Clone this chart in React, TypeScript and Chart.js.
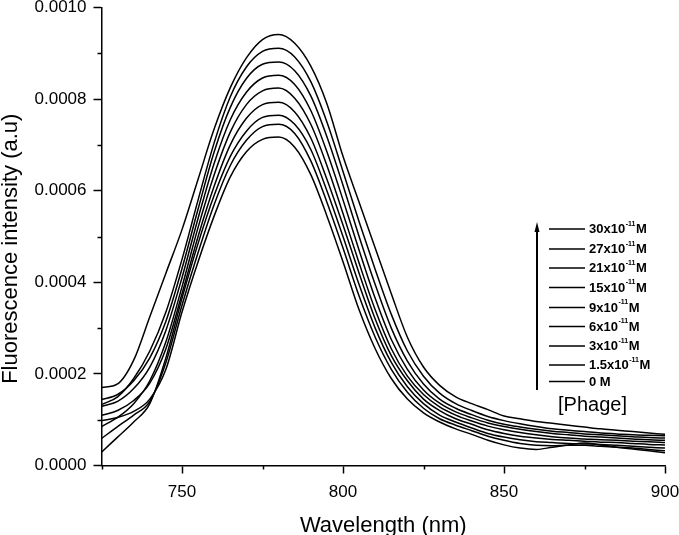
import React, { useEffect, useRef } from 'react';
import { Chart, registerables } from 'chart.js';

Chart.register(...registerables);

// Wavelength grid (nm)
const wavelengths = [725, 730, 735, 740, 745, 750, 755, 760, 765, 770, 775, 780, 785, 790, 795, 800, 805, 810, 815, 820, 825, 830, 835, 840, 845, 850, 855, 860, 865, 870, 875, 880, 885, 890, 895, 900];

// Fluorescence intensity, in units of 1e-4 a.u.
const phage0 = [0.98, 1.05, 1.18, 1.45, 2.1, 3.35, 4.45, 5.45, 6.3, 6.85, 7.12, 7.17, 6.95, 6.35, 5.45, 4.45, 3.4, 2.55, 1.9, 1.45, 1.15, 0.95, 0.8, 0.68, 0.55, 0.45, 0.38, 0.35, 0.4, 0.45, 0.49, 0.45, 0.4, 0.36, 0.32, 0.28];
const phage1_5 = [0.59, 0.85, 1.1, 1.4, 2.25, 3.5, 4.65, 5.7, 6.55, 7.1, 7.4, 7.45, 7.25, 6.65, 5.75, 4.75, 3.7, 2.8, 2.1, 1.6, 1.25, 1.02, 0.88, 0.76, 0.64, 0.55, 0.48, 0.44, 0.43, 0.44, 0.44, 0.42, 0.4, 0.38, 0.35, 0.32];
const phage3 = [0.29, 0.62, 0.95, 1.35, 2.35, 3.65, 4.85, 5.9, 6.75, 7.3, 7.6, 7.65, 7.45, 6.9, 6.0, 5.0, 3.95, 3.0, 2.25, 1.72, 1.35, 1.1, 0.95, 0.82, 0.7, 0.62, 0.56, 0.52, 0.5, 0.48, 0.47, 0.46, 0.44, 0.42, 0.4, 0.38];
const phage6 = [1.09, 1.2, 1.42, 1.8, 2.55, 3.75, 5.0, 6.1, 7.0, 7.58, 7.88, 7.93, 7.72, 7.15, 6.25, 5.25, 4.2, 3.2, 2.4, 1.85, 1.45, 1.2, 1.02, 0.9, 0.78, 0.7, 0.64, 0.6, 0.57, 0.55, 0.53, 0.51, 0.5, 0.48, 0.46, 0.45];
const phage9 = [0.85, 1.05, 1.35, 1.85, 2.7, 3.9, 5.2, 6.35, 7.28, 7.88, 8.18, 8.24, 8.02, 7.45, 6.55, 5.5, 4.42, 3.4, 2.55, 1.95, 1.55, 1.28, 1.1, 0.97, 0.86, 0.78, 0.72, 0.67, 0.63, 0.6, 0.58, 0.56, 0.55, 0.53, 0.52, 0.5];
const phage15 = [1.29, 1.4, 1.68, 2.15, 2.95, 4.1, 5.4, 6.6, 7.55, 8.15, 8.46, 8.52, 8.32, 7.75, 6.85, 5.8, 4.7, 3.65, 2.75, 2.1, 1.65, 1.36, 1.17, 1.04, 0.93, 0.85, 0.79, 0.74, 0.7, 0.67, 0.64, 0.62, 0.6, 0.58, 0.56, 0.55];
const phage21 = [1.44, 1.55, 1.85, 2.35, 3.15, 4.3, 5.6, 6.85, 7.82, 8.45, 8.76, 8.81, 8.62, 8.07, 7.18, 6.12, 5.0, 3.95, 3.0, 2.28, 1.78, 1.45, 1.25, 1.11, 0.99, 0.9, 0.84, 0.79, 0.75, 0.72, 0.69, 0.67, 0.65, 0.63, 0.61, 0.6];
const phage27 = [1.33, 1.5, 1.9, 2.5, 3.35, 4.5, 5.8, 7.05, 8.05, 8.7, 9.04, 9.11, 8.92, 8.38, 7.5, 6.42, 5.32, 4.28, 3.3, 2.5, 1.95, 1.58, 1.35, 1.2, 1.07, 0.98, 0.91, 0.85, 0.8, 0.77, 0.74, 0.71, 0.69, 0.67, 0.66, 0.65];
const phage30 = [1.7, 1.78, 2.3, 3.25, 4.2, 5.15, 6.25, 7.35, 8.25, 8.9, 9.3, 9.41, 9.22, 8.72, 7.9, 6.75, 5.75, 4.75, 3.75, 2.8, 2.15, 1.75, 1.5, 1.35, 1.22, 1.08, 1.02, 0.96, 0.92, 0.88, 0.84, 0.8, 0.77, 0.74, 0.71, 0.68];

const seriesValues = [phage0, phage1_5, phage3, phage6, phage9, phage15, phage21, phage27, phage30];
const seriesNames = ['0 M', '1.5x10-11M', '3x10-11M', '6x10-11M', '9x10-11M', '15x10-11M', '21x10-11M', '27x10-11M', '30x10-11M'];

// Legend entries, top to bottom (mantissa of x10^-11 M, or null for 0 M)
const legendMantissas = ['30', '27', '21', '15', '9', '6', '3', '1.5', null];
const legendOffsets = [0, 20, 39, 58.5, 78.5, 97.5, 117, 136, 152.5];

const xTickValues = [750, 800, 850, 900];
const xMinorValues = [725, 775, 825, 875];
const yMinorValues = [0.0001, 0.0003, 0.0005, 0.0007, 0.0009];

const FONT = '"Liberation Sans", Arial, sans-serif';

const minorTicks = {
  id: 'minorTicks',
  afterDraw(chart: any) {
    const { ctx, chartArea, scales } = chart;
    ctx.save();
    ctx.strokeStyle = '#000';
    ctx.lineWidth = 1.5;
    ctx.beginPath();
    for (const v of yMinorValues) {
      const y = Math.round(scales.y.getPixelForValue(v)) + 0.5;
      ctx.moveTo(chartArea.left - 4, y);
      ctx.lineTo(chartArea.left, y);
    }
    for (const v of xMinorValues) {
      const x = Math.round(scales.x.getPixelForValue(v)) + 0.5;
      ctx.moveTo(x, chartArea.bottom);
      ctx.lineTo(x, chartArea.bottom + 4);
    }
    ctx.stroke();
    ctx.restore();
  },
};

const concLegend = {
  id: 'concLegend',
  afterDraw(chart: any) {
    const { ctx, chartArea } = chart;
    const lineX0 = chartArea.right - 116;
    const lineX1 = chartArea.right - 80;
    const textX = chartArea.right - 76;
    const top = chartArea.top + 221.5;
    ctx.save();
    ctx.fillStyle = '#000';
    ctx.strokeStyle = '#000';
    ctx.textBaseline = 'middle';
    ctx.textAlign = 'left';
    legendMantissas.forEach((m, i) => {
      const y = top + legendOffsets[i];
      ctx.lineWidth = 1.5;
      ctx.beginPath();
      ctx.moveTo(lineX0, y);
      ctx.lineTo(lineX1, y);
      ctx.stroke();
      ctx.font = `bold 13px ${FONT}`;
      if (m === null) {
        ctx.fillText('0 M', textX, y + 0.5);
      } else {
        const main = `${m}x10`;
        ctx.fillText(main, textX, y + 0.5);
        const w = ctx.measureText(main).width;
        ctx.font = `bold 7px ${FONT}`;
        ctx.fillText('-11', textX + w + 0.5, y - 5);
        const ws = ctx.measureText('-11').width;
        ctx.font = `bold 13px ${FONT}`;
        ctx.fillText('M', textX + w + ws + 1, y + 0.5);
      }
    });
    // arrow
    const ax = chartArea.right - 128;
    const aTop = chartArea.top + 214.5;
    const aBottom = chartArea.top + 382.5;
    ctx.lineWidth = 2;
    ctx.beginPath();
    ctx.moveTo(ax, aBottom);
    ctx.lineTo(ax, aTop + 8);
    ctx.stroke();
    ctx.beginPath();
    ctx.moveTo(ax, aTop);
    ctx.lineTo(ax - 2.5, aTop + 10);
    ctx.lineTo(ax + 2.5, aTop + 10);
    ctx.closePath();
    ctx.fill();
    // [Phage]
    ctx.font = `20px ${FONT}`;
    ctx.textAlign = 'center';
    ctx.fillText('[Phage]', chartArea.right - 72.5, chartArea.top + 398);
    ctx.restore();
  },
};

export default function App() {
  const ref = useRef<HTMLCanvasElement>(null);
  useEffect(() => {
    document.body.style.margin = '0';
    const canvas = ref.current;
    if (!canvas) return;
    const chart = new Chart(canvas, {
      type: 'line',
      data: {
        datasets: seriesValues.map((vals, i) => ({
          label: seriesNames[i],
          data: wavelengths.map((w, j) => ({ x: w, y: vals[j] * 1e-4 })),
          borderColor: '#000',
          borderWidth: 1.5,
          pointRadius: 0,
          fill: false,
          cubicInterpolationMode: 'monotone' as const,
        })),
      },
      options: {
        responsive: false,
        animation: false,
        layout: { padding: { top: 7.5, right: 14, left: 0, bottom: 0 } },
        plugins: {
          legend: { display: false },
          tooltip: { enabled: false },
        },
        scales: {
          x: {
            type: 'linear',
            min: 725,
            max: 900,
            afterBuildTicks: (s: any) => {
              s.ticks = xTickValues.map((v) => ({ value: v }));
            },
            afterFit: (s: any) => {
              s.height = 69.5;
              s.paddingLeft = 0;
              s.paddingRight = 0;
            },
            ticks: {
              color: '#000',
              font: { family: FONT, size: 17 },
              padding: 9,
              maxRotation: 0,
              autoSkip: false,
            },
            grid: {
              display: true,
              drawOnChartArea: false,
              drawTicks: true,
              tickLength: 8,
              tickWidth: 1.5,
              tickColor: '#000',
            },
            border: { display: true, color: '#000', width: 1.5 },
            title: {
              display: true,
              text: 'Wavelength (nm)',
              color: '#000',
              font: { family: FONT, size: 22, lineHeight: 1 },
              padding: { top: 0, bottom: -2 },
            },
          },
          y: {
            type: 'linear',
            min: 0,
            max: 0.001,
            afterFit: (s: any) => {
              s.width = 101.5;
              s.paddingTop = 0;
              s.paddingBottom = 0;
            },
            ticks: {
              stepSize: 0.0002,
              color: '#000',
              font: { family: FONT, size: 17, lineHeight: 0.8 },
              padding: 7,
              callback: (v: any) => Number(v).toFixed(4),
            },
            grid: {
              display: true,
              drawOnChartArea: false,
              drawTicks: true,
              tickLength: 8,
              tickWidth: 1.5,
              tickColor: '#000',
            },
            border: { display: true, color: '#000', width: 1.5 },
            title: {
              display: true,
              text: 'Fluorescence intensity (a.u)\u00A0\u00A0\u00A0\u00A0',
              color: '#000',
              font: { family: FONT, size: 22, lineHeight: 1 },
              padding: { top: 0, bottom: 0 },
            },
          },
        },
      },
      plugins: [minorTicks, concLegend],
    });
    return () => chart.destroy();
  }, []);
  return (
    <div style={{ width: 679, height: 535 }}>
      <canvas ref={ref} width={679} height={535} style={{ display: 'block' }} />
    </div>
  );
}
